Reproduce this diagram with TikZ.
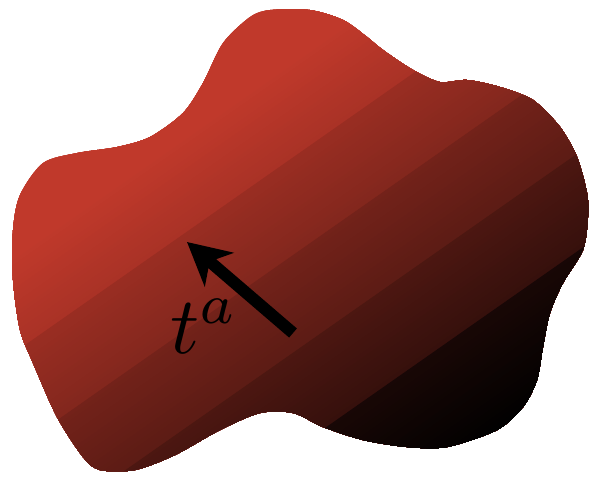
\documentclass[tikz,border=0pt]{standalone}
\usetikzlibrary{arrows.meta}
\definecolor{blobred}{HTML}{C0392B}
\begin{document}
\begin{tikzpicture}[x=0.02cm,y=-0.02cm]
\useasboundingbox(0,0)rectangle(591,477);
\begin{scope}
\clip plot[smooth cycle]coordinates{(270,10)(310,10)(343,20)(367,37)(383,50)(413,70)(440,82)(467,80)(500,87)(533,100)(560,127)(577,157)(587,193)(588,217)(583,250)(563,283)(550,313)(543,347)(537,380)(523,407)(497,430)(447,447)(407,447)(363,440)(323,427)(293,413)(260,413)(220,430)(175,455)(135,470)(100,470)(83,457)(57,417)(33,363)(20,330)(13,280)(13,230)(20,195)(43,163)(77,153)(117,147)(150,137)(183,113)(203,83)(223,43)(250,17)};
% bands of the gradient, red to black
\begin{scope}[rotate=-55]
\foreach\i in{0,...,125}{\pgfmathsetmacro\pos{149+4*\i}\pgfmathsetmacro\dist{max(\pos+2-217,0)}\pgfmathsetmacro\band{min(floor(\dist/80),4)}\pgfmathsetmacro\pct{\band>3?max(13-0.12*(\dist-320),0):100-20*\band-0.15*(\dist-80*\band)}\fill[blobred!\pct!black](\pos,-900)rectangle(700,900);}
\end{scope}
\end{scope}
\coordinate(tail)at(293,333);\coordinate(tip)at(187,242);
\draw[line width=6.8pt,-{Stealth[length=24pt,width=25pt,inset=7pt]}](tail)--(tip);
\node[anchor=base west,inner sep=0,scale=4.6](ta)at(169,353){$t^a$};
\end{tikzpicture}
\end{document}
